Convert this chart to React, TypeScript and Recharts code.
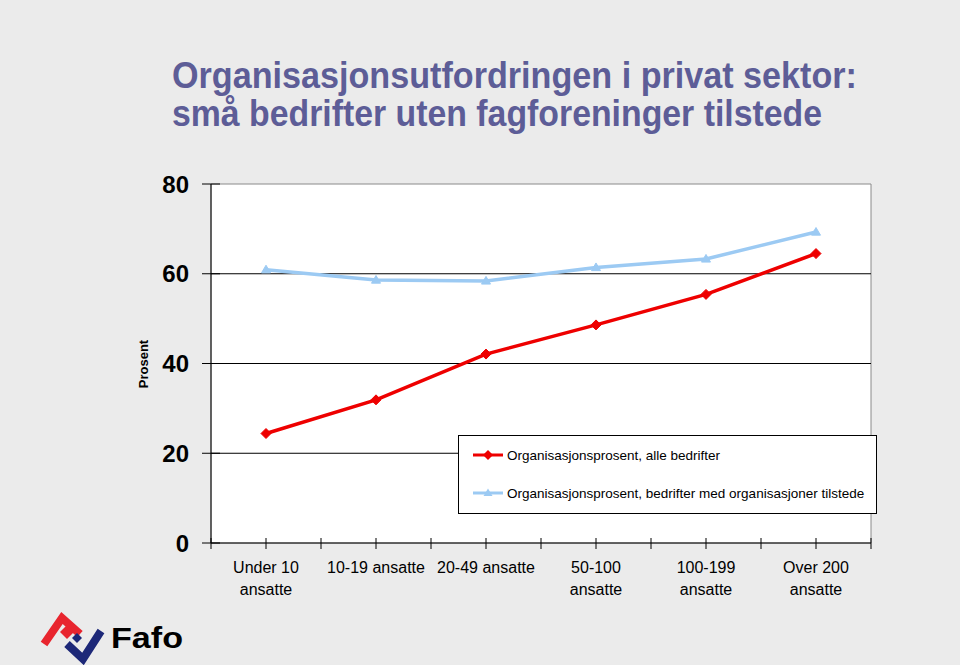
import React from 'react';
import {
  ComposedChart,
  Line,
  XAxis,
  YAxis,
  ReferenceLine,
  ReferenceArea,
  Legend,
} from 'recharts';

const categoryLines: string[][] = [
  ['Under 10', 'ansatte'],
  ['10-19 ansatte'],
  ['20-49 ansatte'],
  ['50-100', 'ansatte'],
  ['100-199', 'ansatte'],
  ['Over 200', 'ansatte'],
];
const alleBedrifter = [24.4, 31.9, 42.1, 48.6, 55.4, 64.5];
const medOrganisasjoner = [60.9, 58.6, 58.4, 61.4, 63.3, 69.3];
const yTicks = [0, 20, 40, 60, 80];
const gridValues = [20, 40, 60];
const seriesNames = [
  'Organisasjonsprosent, alle bedrifter',
  'Organisasjonsprosent, bedrifter med organisasjoner tilstede',
];
const titleLines = [
  'Organisasjonsutfordringen i privat sektor:',
  'små bedrifter uten fagforeninger tilstede',
];

const RED = '#ee0000';
const BLUE = '#9ccaf3';
const TITLE = '#5d5d97';
const FONT = '"Liberation Sans", Arial, Helvetica, sans-serif';

const data = categoryLines.map((c, i) => ({
  x: i + 0.5,
  alle: alleBedrifter[i],
  med: medOrganisasjoner[i],
}));
const xTicks = Array.from({ length: categoryLines.length * 2 + 1 }, (_, i) => i / 2);

const Diamond = (p: any) => {
  const { cx, cy, index } = p;
  if (cx == null || cy == null) return <g key={`d${index}`} />;
  const r = 5;
  return (
    <polygon
      key={`d${index}`}
      points={`${cx},${cy - r} ${cx + r},${cy} ${cx},${cy + r} ${cx - r},${cy}`}
      fill={RED}
      stroke={RED}
    />
  );
};

const Triangle = (p: any) => {
  const { cx, cy, index } = p;
  if (cx == null || cy == null) return <g key={`t${index}`} />;
  const r = 4.5;
  return (
    <polygon
      key={`t${index}`}
      points={`${cx},${cy - r} ${cx + r},${cy + r * 0.7} ${cx - r},${cy + r * 0.7}`}
      fill={BLUE}
      stroke={BLUE}
    />
  );
};

const YTick = (p: any) => {
  const { x, y, payload } = p;
  return (
    <g>
      <line x1={x - 9} x2={x + 9} y1={y} y2={y} stroke="#000" strokeWidth={1} />
      <text
        x={x - 22}
        y={y}
        dy={8.5}
        textAnchor="end"
        fontFamily={FONT}
        fontWeight="bold"
        fontSize={24}
        fill="#000"
      >
        {payload.value}
      </text>
    </g>
  );
};

const XTick = (p: any) => {
  const { x, y, payload } = p;
  const v = payload.value as number;
  const isCenter = Math.abs(v - Math.floor(v) - 0.5) < 1e-6;
  const lines = isCenter ? categoryLines[Math.floor(v)] : [];
  return (
    <g>
      <line x1={x} x2={x} y1={y - 5} y2={y + 6} stroke="#000" strokeWidth={1} />
      {lines.map((t, i) => (
        <text
          key={i}
          x={x}
          y={y + 30 + i * 21.5}
          textAnchor="middle"
          fontFamily={FONT}
          fontSize={16}
          fill="#000"
        >
          {t}
        </text>
      ))}
    </g>
  );
};

const LegendBox = () => (
  <div
    style={{
      width: 417,
      height: 77,
      border: '1px solid #000',
      background: '#fff',
    }}
  >
    <svg width={417} height={77}>
      {seriesNames.map((name, i) => {
        const y = 19 + i * 38;
        const color = i === 0 ? RED : BLUE;
        const mx = 29;
        return (
          <g key={name}>
            <line x1={14} x2={44} y1={y} y2={y} stroke={color} strokeWidth={3} />
            {i === 0 ? (
              <polygon
                points={`${mx},${y - 5} ${mx + 5},${y} ${mx},${y + 5} ${mx - 5},${y}`}
                fill={color}
              />
            ) : (
              <polygon
                points={`${mx},${y - 4.5} ${mx + 4.5},${y + 3} ${mx - 4.5},${y + 3}`}
                fill={color}
              />
            )}
            <text x={48} y={y + 5} fontFamily={FONT} fontSize={13.5} fill="#000">
              {name}
            </text>
          </g>
        );
      })}
    </svg>
  </div>
);

const Logo = () => (
  <svg
    width={960}
    height={665}
    style={{ position: 'absolute', left: 0, top: 0, pointerEvents: 'none' }}
  >
    {/* title */}
    <text
      x={172}
      y={88}
      fontFamily={FONT}
      fontWeight="bold"
      fontSize={36}
      fill={TITLE}
      textLength={685}
      lengthAdjust="spacingAndGlyphs"
    >
      {titleLines[0]}
    </text>
    <text
      x={172}
      y={126}
      fontFamily={FONT}
      fontWeight="bold"
      fontSize={36}
      fill={TITLE}
      textLength={650}
      lengthAdjust="spacingAndGlyphs"
    >
      {titleLines[1]}
    </text>
    {/* y axis title */}
    <text
      transform="translate(148,364) rotate(-90)"
      textAnchor="middle"
      fontFamily={FONT}
      fontWeight="bold"
      fontSize={13}
      fill="#000"
    >
      Prosent
    </text>
    {/* Fafo logo */}
    <polyline
      points="44,644 62,618 80,634"
      fill="none"
      stroke="#e8252e"
      strokeWidth={8}
      strokeLinejoin="miter"
    />
    <polygon points="60,632 67,625 74,632 67,639" fill="#e8252e" />
    <polyline
      points="67,644 83,659 101,631"
      fill="none"
      stroke="#1d2878"
      strokeWidth={8}
      strokeLinejoin="miter"
    />
    <polygon points="72,638 77,633 82,638 77,643" fill="#1d2878" />
    <text
      x={111}
      y={648}
      fontFamily={FONT}
      fontWeight="bold"
      fontSize={30}
      fill="#000"
      textLength={72}
      lengthAdjust="spacingAndGlyphs"
    >
      Fafo
    </text>
  </svg>
);

export default function App() {
  return (
    <div
      style={{
        position: 'absolute',
        left: 0,
        top: 0,
        width: 960,
        height: 665,
        background: '#ebebeb',
        overflow: 'hidden',
      }}
    >
      <ComposedChart
        width={960}
        height={665}
        data={data}
        margin={{ top: 184, right: 89, bottom: 62, left: 151 }}
      >
        <ReferenceArea
          x1={0}
          x2={6}
          y1={0}
          y2={80}
          fill="#ffffff"
          fillOpacity={1}
          stroke="#8a8a8a"
          strokeWidth={1}
        />
        {gridValues.map((v) => (
          <ReferenceLine key={v} y={v} stroke="#000" strokeWidth={1} />
        ))}
        <XAxis
          type="number"
          dataKey="x"
          domain={[0, 6]}
          ticks={xTicks}
          interval={0}
          height={60}
          axisLine={{ stroke: '#000', strokeWidth: 1 }}
          tickLine={false}
          tickSize={0}
          tickMargin={0}
          tick={<XTick />}
        />
        <YAxis
          type="number"
          domain={[0, 80]}
          ticks={yTicks}
          interval={0}
          width={60}
          axisLine={{ stroke: '#000', strokeWidth: 1 }}
          tickLine={false}
          tickSize={0}
          tickMargin={0}
          tick={<YTick />}
        />
        <Legend
          layout="vertical"
          align="center"
          verticalAlign="middle"
          wrapperStyle={{ left: 458, top: 435, width: 419, height: 79 }}
          content={() => <LegendBox />}
        />
        <Line
          dataKey="med"
          name={seriesNames[1]}
          stroke={BLUE}
          strokeWidth={3.5}
          dot={Triangle}
          activeDot={false}
          isAnimationActive={false}
        />
        <Line
          dataKey="alle"
          name={seriesNames[0]}
          stroke={RED}
          strokeWidth={3.5}
          dot={Diamond}
          activeDot={false}
          isAnimationActive={false}
        />
      </ComposedChart>
      <Logo />
    </div>
  );
}
